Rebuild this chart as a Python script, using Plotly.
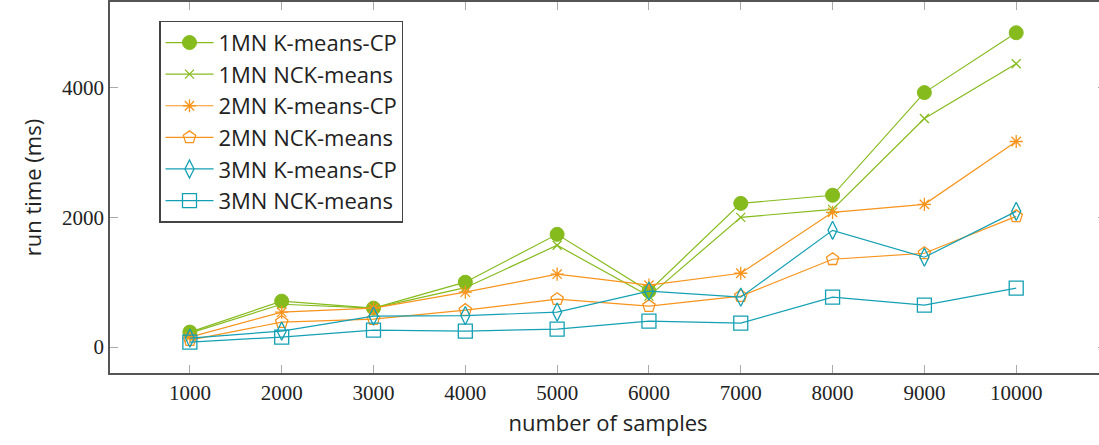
import plotly.graph_objects as go

samples = [1000, 2000, 3000, 4000, 5000, 6000, 7000, 8000, 9000, 10000]

mn1_kmeans_cp = [231, 708, 600, 1000, 1738, 862, 2215, 2340, 3923, 4846]
mn1_nck_means = [215, 660, 600, 915, 1569, 785, 2000, 2123, 3523, 4369]
mn2_kmeans_cp = [154, 538, 600, 846, 1123, 954, 1138, 2077, 2200, 3169]
mn2_nck_means = [108, 385, 431, 569, 738, 631, 785, 1354, 1446, 2015]
mn3_kmeans_cp = [138, 246, 477, 485, 538, 862, 769, 1800, 1385, 2092]
mn3_nck_means = [77, 154, 262, 246, 277, 400, 369, 769, 646, 908]

names = ["1MN K-means-CP", "1MN NCK-means", "2MN K-means-CP",
         "2MN NCK-means", "3MN K-means-CP", "3MN NCK-means"]

GREEN = "#86bb1e"
ORANGE = "#f7941d"
TEAL = "#14a0b4"

series = [
    (mn1_kmeans_cp, GREEN, "circle", 14, 1),
    (mn1_nck_means, GREEN, "x-thin-open", 9, 1.3),
    (mn2_kmeans_cp, ORANGE, "asterisk-open", 11, 1.3),
    (mn2_nck_means, ORANGE, "pentagon-open", 13, 1.3),
    (mn3_kmeans_cp, TEAL, "diamond-tall-open", 13, 1.3),
    (mn3_nck_means, TEAL, "square-open", 14, 1.3),
]

fig = go.Figure()
for (vals, color, sym, size, mlw), name in zip(series, names):
    fig.add_trace(go.Scatter(
        x=samples, y=vals, name=name, mode="lines+markers",
        line=dict(color=color, width=1.2),
        marker=dict(symbol=sym, size=size, color=color,
                    line=dict(color=color, width=mlw)),
    ))

axis_common = dict(
    showline=True, linecolor="#555555", linewidth=1.5, mirror="ticks",
    ticks="inside", ticklen=8, tickcolor="#aaaaaa", tickwidth=1,
    showgrid=False, zeroline=False,
    tickfont=dict(family="Liberation Serif, DejaVu Serif, serif", size=21, color="#222"),
)

SANS = "Open Sans, Noto Sans, sans-serif"
title_font = dict(family=SANS, size=22, color="#222")

fig.update_layout(
    width=1108, height=445, autosize=False,
    margin=dict(l=110, r=0, t=1, b=72),
    paper_bgcolor="white", plot_bgcolor="white",
    xaxis=dict(range=[130, 10978], tickvals=samples,
               ticktext=[str(s) for s in samples],
               title=dict(text="number of samples", standoff=12, font=title_font),
               **axis_common),
    yaxis=dict(range=[-400, 5320], tickvals=[0, 2000, 4000],
               title=dict(text="run time (ms)", standoff=14, font=title_font),
               **axis_common),
    legend=dict(x=0.0495, y=0.95, xanchor="left", yanchor="top",
                bgcolor="white", bordercolor="#444444", borderwidth=1.2,
                font=dict(family=SANS, size=22, color="#222"),
                itemwidth=48, tracegroupgap=0),
    showlegend=True,
)

fig.write_html("out.html", config={"displayModeBar": False, "responsive": False},
               post_script="document.body.style.margin='0';document.body.style.overflow='hidden';")
